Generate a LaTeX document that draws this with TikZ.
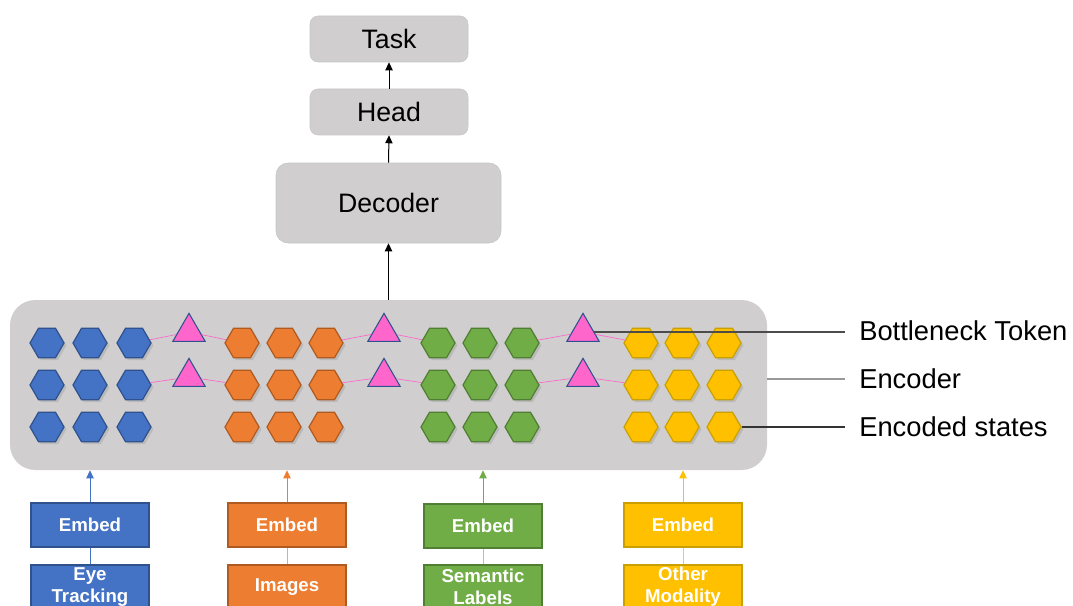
\documentclass[tikz,border=0pt]{standalone}
\usepackage{fontspec}
\setmainfont{Liberation Sans}
\usetikzlibrary{shapes.geometric,arrows.meta,shadows}

\definecolor{cblue}{HTML}{4472C4}
\definecolor{cblueD}{HTML}{2F528F}
\definecolor{corange}{HTML}{ED7D31}
\definecolor{corangeD}{HTML}{AE5A21}
\definecolor{cgreen}{HTML}{70AD47}
\definecolor{cgreenD}{HTML}{507E32}
\definecolor{cyellow}{HTML}{FFC000}
\definecolor{cyellowD}{HTML}{C9A000}
\definecolor{cpink}{HTML}{FF66CC}
\definecolor{cgray}{HTML}{D0CECE}

\tikzset{
  graybox/.style={draw=black!22, fill=cgray, rounded corners=6pt, font=\fontsize{20}{24}\selectfont},
  hex/.style={regular polygon, regular polygon sides=6, minimum size=25.5pt, inner sep=0pt, line width=0.9pt,
    drop shadow={shadow xshift=1.8pt, shadow yshift=-1.8pt, opacity=0.25}},
  token/.style={regular polygon, regular polygon sides=3, minimum size=28pt, inner sep=0pt, fill=cpink, draw=cblueD, line width=0.8pt},
  embed/.style={minimum width=88.5pt, minimum height=33pt, inner sep=0pt, line width=0.9pt, text=white,
    font=\bfseries\fontsize{14}{16.5}\selectfont, align=center},
  sidelabel/.style={anchor=west, inner xsep=10.5pt, font=\fontsize{20.5}{24}\selectfont},
  arr/.style={-{Triangle[length=6pt,width=5.5pt]}, line width=0.75pt},
}

\begin{document}
\begin{tikzpicture}[x=0.75pt, y=-0.75pt]
    \useasboundingbox (0,0) rectangle (1073,606);
    % encoder block
    \node[fill=cgray, rounded corners=19pt, minimum width=567.75pt, minimum height=127.5pt] (enc) at (388.5,385) {};
    % decoder, head, task
    \node[graybox, minimum width=168.75pt, minimum height=60pt, rounded corners=9pt] (dec) at (388.5,203) {Decoder};
    \node[graybox, minimum width=118.5pt, minimum height=34.5pt] (head) at (389,112) {Head};
    \node[graybox, minimum width=118.5pt, minimum height=34.5pt] (task) at (389,39) {Task};
    \draw[arr] (enc.north) -- (dec.south);
    \draw[arr] (dec.north) -- (head.south);
    \draw[arr] (head.north) -- (task.south);
    % encoded states
    \foreach \c/\x in {1/47,2/90,3/134} \foreach \r/\y in {1/343,2/385,3/427}
        \node[hex, fill=cblue, draw=cblueD] (b\r\c) at (\x,\y) {};
    \foreach \c/\x in {1/242,2/284,3/326} \foreach \r/\y in {1/343,2/385,3/427}
        \node[hex, fill=corange, draw=corangeD] (o\r\c) at (\x,\y) {};
    \foreach \c/\x in {1/438,2/480,3/522} \foreach \r/\y in {1/343,2/385,3/427}
        \node[hex, fill=cgreen, draw=cgreenD] (g\r\c) at (\x,\y) {};
    \foreach \c/\x in {1/641,2/682,3/724} \foreach \r/\y in {1/343,2/385,3/427}
        \node[hex, fill=cyellow, draw=cyellowD] (y\r\c) at (\x,\y) {};
    % bottleneck tokens
    \node[token] (t1) at (189,332) {};
    \node[token] (t2) at (189,377) {};
    \node[token] (t3) at (384,332) {};
    \node[token] (t4) at (384,377) {};
    \node[token] (t5) at (583,332) {};
    \node[token] (t6) at (583,377) {};
    \draw[cpink, line width=0.5pt] (b13) -- (t1) -- (o11) (b23) -- (t2) -- (o21);
    \draw[cpink, line width=0.5pt] (o13) -- (t3) -- (g11) (o23) -- (t4) -- (g21);
    \draw[cpink, line width=0.5pt] (g13) -- (t5) -- (y11) (g23) -- (t6) -- (y21);
    % labels on the right
    \node[sidelabel] (btl) at (845,331) {Bottleneck Token};
    \node[sidelabel] (encl) at (845,379) {Encoder};
    \node[sidelabel] (estl) at (845,427) {Encoded states};
    \draw[black!70, line width=0.8pt] (t5.east) -- (t5.east -| btl.west);
    \draw[black!40, line width=0.8pt] (enc.east |- encl) -- (encl.west);
    \draw[black!80, line width=0.8pt] (y33) -- (estl.west);
    % inputs and embeddings
    \node[embed, fill=cblue, draw=cblueD] (eb) at (90,525) {Embed};
    \node[embed, fill=cblue, draw=cblueD] (ib) at (90,587) {Eye\\Tracking};
    \node[embed, fill=corange, draw=corangeD] (eo) at (287,525) {Embed};
    \node[embed, fill=corange, draw=corangeD] (io) at (287,587) {Images};
    \node[embed, fill=cgreen, draw=cgreenD] (eg) at (483,526) {Embed};
    \node[embed, fill=cgreen, draw=cgreenD] (ig) at (483,587) {Semantic\\Labels};
    \node[embed, fill=cyellow, draw=cyellowD] (ey) at (683,525) {Embed};
    \node[embed, fill=cyellow, draw=cyellowD] (iy) at (683,587) {Other\\Modality};
    \draw[cblue] (ib) -- (eb);
    \draw[corange!70] (io) -- (eo);
    \draw[cgreen!60] (ig) -- (eg);
    \draw[cyellow!80] (iy) -- (ey);
    \draw[arr, cblue] (eb) -- (eb |- enc.south);
    \draw[arr, corange] (eo) -- (eo |- enc.south);
    \draw[arr, cgreen] (eg) -- (eg |- enc.south);
    \draw[arr, cyellow] (ey) -- (ey |- enc.south);
\end{tikzpicture}
\end{document}
